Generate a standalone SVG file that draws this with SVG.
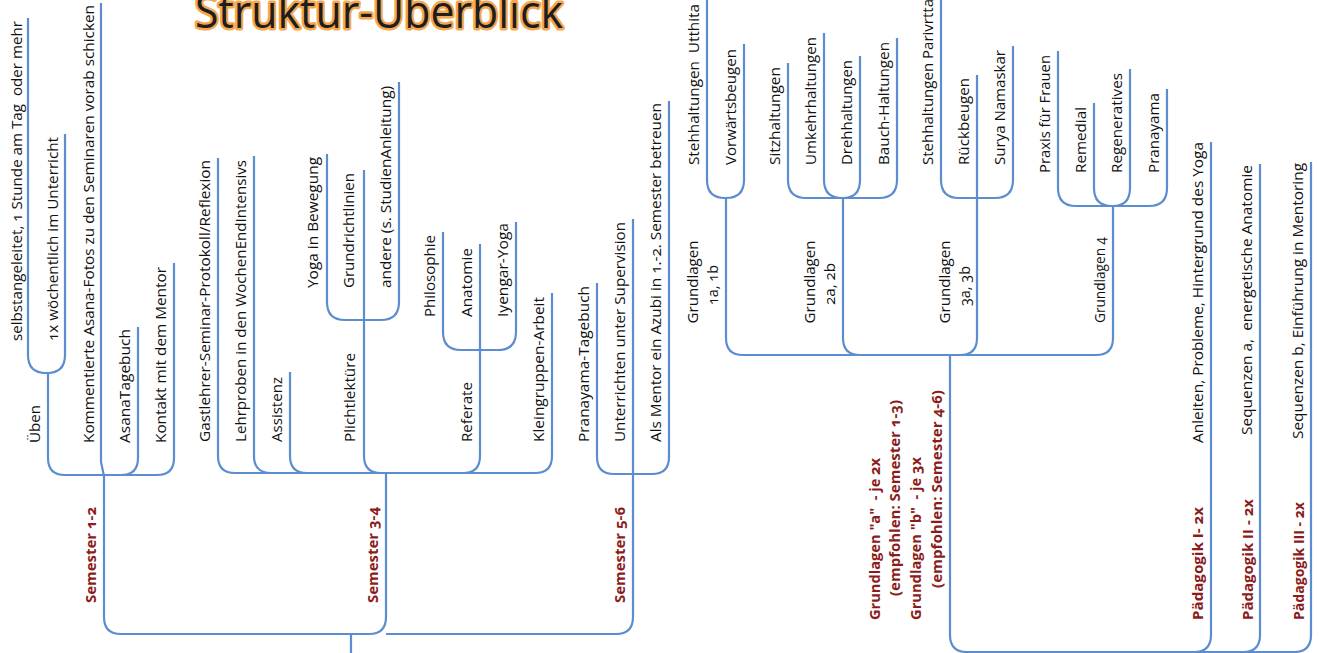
<svg xmlns="http://www.w3.org/2000/svg" width="1319" height="653" viewBox="0 0 1319 653">
<style>
.c{fill:none;stroke:#5b8dd0;stroke-width:2.2}
text{font-family:"Open Sans","Noto Sans",sans-serif;font-variant-numeric:oldstyle-nums}
.t{font-size:15px;fill:#111}
.b{font-size:14px;font-weight:700;fill:#8b1c1c}
.title{font-size:46px;fill:#1e1e1e;stroke:#f6a74d;stroke-width:5;paint-order:stroke;stroke-linejoin:round}
</style>
<rect width="1319" height="653" fill="#fff"/>
<g id="title"><text class="title" x="195" y="28" textLength="368" lengthAdjust="spacingAndGlyphs">Struktur-Überblick</text></g>
<g id="connectors" class="c">
<path d="M351,634 V653"/>
<path d="M101,3 V462 L104,476 V617 Q104,634 121,634 H351"/>
<path d="M386,473 V617 Q386,634 369,634 H351"/>
<path d="M633,219 V617 Q633,634 616,634 H386"/>
<path d="M48,373 V458 Q48,475 65,475 H104"/>
<path d="M28,18 V355 Q28,373 46,373 H48"/>
<path d="M65,134 V355 Q65,373 47,373 H48"/>
<path d="M138,327 V458 Q138,475 121,475 H104"/>
<path d="M174,263 V458 Q174,475 157,475 H104"/>
<path d="M218,158 V456 Q218,473 235,473 H386"/>
<path d="M254,156 V456 Q254,473 271,473 H386"/>
<path d="M290,372 V456 Q290,473 307,473 H386"/>
<path d="M364,170 V456 Q364,473 381,473 H386"/>
<path d="M327,154 V302 Q327,320 345,320 H364"/>
<path d="M399,82 V302 Q399,320 381,320 H364"/>
<path d="M480,244 V456 Q480,473 463,473 H386"/>
<path d="M443,232 V332 Q443,350 461,350 H480"/>
<path d="M516,222 V332 Q516,350 498,350 H480"/>
<path d="M552,293 V456 Q552,473 535,473 H386"/>
<path d="M597,283 V457 Q597,474 614,474 H633"/>
<path d="M669,101 V457 Q669,474 652,474 H633"/>
<path d="M950,355 V635 Q950,652 967,652 H1294"/>
<path d="M1211,142 V635 Q1211,652 1194,652"/>
<path d="M1260,164 V635 Q1260,652 1243,652"/>
<path d="M1311,162 V635 Q1311,652 1294,652"/>
<path d="M726,198 V338 Q726,355 743,355 H950"/>
<path d="M707,0 V180 Q707,198 725,198 H726"/>
<path d="M744,44 V180 Q744,198 726,198"/>
<path d="M843,198 V338 Q843,355 860,355 H950"/>
<path d="M788,63 V180 Q788,198 806,198 H843"/>
<path d="M897,38 V180 Q897,198 879,198 H843"/>
<path d="M824,33 V180 Q824,198 842,198 H843"/>
<path d="M860,56 V180 Q860,198 843,198"/>
<path d="M977,75 V338 Q977,355 960,355 H950"/>
<path d="M941,0 V180 Q941,198 959,198 H977"/>
<path d="M1013,46 V180 Q1013,198 995,198 H977"/>
<path d="M1113,206 V338 Q1113,355 1096,355 H950"/>
<path d="M1058,51 V188 Q1058,206 1076,206 H1113"/>
<path d="M1167,89 V188 Q1167,206 1149,206 H1113"/>
<path d="M1094,103 V188 Q1094,206 1112,206 H1113"/>
<path d="M1130,69 V188 Q1130,206 1113,206"/>
</g>
<g id="n-selbst"><text class="t" xml:space="preserve" transform="translate(22,341) rotate(-90)" textLength="320" lengthAdjust="spacingAndGlyphs">selbstangeleitet, 1 Stunde am Tag  oder mehr</text></g>
<g id="n-1x"><text class="t" transform="translate(58,341) rotate(-90)" textLength="204" lengthAdjust="spacingAndGlyphs">1x wöchentlich im Unterricht</text></g>
<g id="n-ueben"><text class="t" transform="translate(40,443) rotate(-90)" textLength="38" lengthAdjust="spacingAndGlyphs">Üben</text></g>
<g id="n-komm"><text class="t" transform="translate(94,443) rotate(-90)" textLength="438" lengthAdjust="spacingAndGlyphs">Kommentierte Asana-Fotos zu den Seminaren vorab schicken</text></g>
<g id="n-asana"><text class="t" transform="translate(130,443) rotate(-90)" textLength="114" lengthAdjust="spacingAndGlyphs">AsanaTagebuch</text></g>
<g id="n-kontakt"><text class="t" transform="translate(166,443) rotate(-90)" textLength="176" lengthAdjust="spacingAndGlyphs">Kontakt mit dem Mentor</text></g>
<g id="n-sem12"><text class="b" transform="translate(96,603) rotate(-90)" textLength="96" lengthAdjust="spacingAndGlyphs">Semester 1-2</text></g>
<g id="n-gast"><text class="t" transform="translate(210,442) rotate(-90)" textLength="282" lengthAdjust="spacingAndGlyphs">Gastlehrer-Seminar-Protokoll/Reflexion</text></g>
<g id="n-lehr"><text class="t" transform="translate(246,442) rotate(-90)" textLength="282" lengthAdjust="spacingAndGlyphs">Lehrproben in den WochenEndIntensivs</text></g>
<g id="n-assist"><text class="t" transform="translate(282,442) rotate(-90)" textLength="65" lengthAdjust="spacingAndGlyphs">Assistenz</text></g>
<g id="n-plicht"><text class="t" transform="translate(355,442) rotate(-90)" textLength="89" lengthAdjust="spacingAndGlyphs">Plichtlektüre</text></g>
<g id="n-yoga"><text class="t" transform="translate(318,288) rotate(-90)" textLength="131" lengthAdjust="spacingAndGlyphs">Yoga in Bewegung</text></g>
<g id="n-grund"><text class="t" transform="translate(354,288) rotate(-90)" textLength="115" lengthAdjust="spacingAndGlyphs">Grundrichtlinien</text></g>
<g id="n-andere"><text class="t" transform="translate(391,288) rotate(-90)" textLength="202" lengthAdjust="spacingAndGlyphs">andere (s. StudienAnleitung)</text></g>
<g id="n-philo"><text class="t" transform="translate(435,317) rotate(-90)" textLength="82" lengthAdjust="spacingAndGlyphs">Philosophie</text></g>
<g id="n-anat"><text class="t" transform="translate(472,317) rotate(-90)" textLength="69" lengthAdjust="spacingAndGlyphs">Anatomie</text></g>
<g id="n-iyengar"><text class="t" transform="translate(508,317) rotate(-90)" textLength="94" lengthAdjust="spacingAndGlyphs">Iyengar-Yoga</text></g>
<g id="n-referate"><text class="t" transform="translate(472,442) rotate(-90)" textLength="60" lengthAdjust="spacingAndGlyphs">Referate</text></g>
<g id="n-klein"><text class="t" transform="translate(544,442) rotate(-90)" textLength="145" lengthAdjust="spacingAndGlyphs">Kleingruppen-Arbeit</text></g>
<g id="n-sem34"><text class="b" transform="translate(378,603) rotate(-90)" textLength="96" lengthAdjust="spacingAndGlyphs">Semester 3-4</text></g>
<g id="n-pranatb"><text class="t" transform="translate(589,442) rotate(-90)" textLength="156" lengthAdjust="spacingAndGlyphs">Pranayama-Tagebuch</text></g>
<g id="n-unter"><text class="t" transform="translate(625,442) rotate(-90)" textLength="220" lengthAdjust="spacingAndGlyphs">Unterrichten unter Supervision</text></g>
<g id="n-mentor"><text class="t" transform="translate(661,442) rotate(-90)" textLength="339" lengthAdjust="spacingAndGlyphs">Als Mentor ein Azubi in 1.-2. Semester betreuen</text></g>
<g id="n-sem56"><text class="b" transform="translate(625,603) rotate(-90)" textLength="96" lengthAdjust="spacingAndGlyphs">Semester 5-6</text></g>
<g id="n-g1"><text class="t" text-anchor="middle" transform="translate(698,282) rotate(-90)" textLength="83" lengthAdjust="spacingAndGlyphs">Grundlagen</text><text class="t" text-anchor="middle" transform="translate(718,285) rotate(-90)" textLength="40" lengthAdjust="spacingAndGlyphs">1a, 1b</text></g>
<g id="n-utthita"><text class="t" xml:space="preserve" transform="translate(699,165) rotate(-90)" textLength="161" lengthAdjust="spacingAndGlyphs">Stehhaltungen  Utthita</text></g>
<g id="n-vorw"><text class="t" transform="translate(736,165) rotate(-90)" textLength="116" lengthAdjust="spacingAndGlyphs">Vorwärtsbeugen</text></g>
<g id="n-g2"><text class="t" text-anchor="middle" transform="translate(815,282) rotate(-90)" textLength="83" lengthAdjust="spacingAndGlyphs">Grundlagen</text><text class="t" text-anchor="middle" transform="translate(835,284) rotate(-90)" textLength="42" lengthAdjust="spacingAndGlyphs">2a, 2b</text></g>
<g id="n-sitz"><text class="t" transform="translate(780,165) rotate(-90)" textLength="98" lengthAdjust="spacingAndGlyphs">Sitzhaltungen</text></g>
<g id="n-umkehr"><text class="t" transform="translate(816,165) rotate(-90)" textLength="128" lengthAdjust="spacingAndGlyphs">Umkehrhaltungen</text></g>
<g id="n-dreh"><text class="t" transform="translate(852,165) rotate(-90)" textLength="105" lengthAdjust="spacingAndGlyphs">Drehhaltungen</text></g>
<g id="n-bauch"><text class="t" transform="translate(889,165) rotate(-90)" textLength="123" lengthAdjust="spacingAndGlyphs">Bauch-Haltungen</text></g>
<g id="n-g3"><text class="t" text-anchor="middle" transform="translate(950,282) rotate(-90)" textLength="83" lengthAdjust="spacingAndGlyphs">Grundlagen</text><text class="t" text-anchor="middle" transform="translate(970,286) rotate(-90)" textLength="40" lengthAdjust="spacingAndGlyphs">3a, 3b</text></g>
<g id="n-pariv"><text class="t" transform="translate(933,165) rotate(-90)" textLength="166" lengthAdjust="spacingAndGlyphs">Stehhaltungen Parivrtta</text></g>
<g id="n-rueck"><text class="t" transform="translate(969,165) rotate(-90)" textLength="87" lengthAdjust="spacingAndGlyphs">Rückbeugen</text></g>
<g id="n-surya"><text class="t" transform="translate(1005,165) rotate(-90)" textLength="115" lengthAdjust="spacingAndGlyphs">Surya Namaskar</text></g>
<g id="n-g4"><text class="t" transform="translate(1105,323) rotate(-90)" textLength="86" lengthAdjust="spacingAndGlyphs">Grundlagen 4</text></g>
<g id="n-praxis"><text class="t" transform="translate(1050,173) rotate(-90)" textLength="118" lengthAdjust="spacingAndGlyphs">Praxis für Frauen</text></g>
<g id="n-remedial"><text class="t" transform="translate(1086,173) rotate(-90)" textLength="66" lengthAdjust="spacingAndGlyphs">Remedial</text></g>
<g id="n-regen"><text class="t" transform="translate(1122,173) rotate(-90)" textLength="100" lengthAdjust="spacingAndGlyphs">Regeneratives</text></g>
<g id="n-pranayama"><text class="t" transform="translate(1159,173) rotate(-90)" textLength="80" lengthAdjust="spacingAndGlyphs">Pranayama</text></g>
<g id="n-grundlagen-ab">
<text class="b" xml:space="preserve" transform="translate(880,620) rotate(-90)" textLength="162" lengthAdjust="spacingAndGlyphs">Grundlagen "a"  - je 2x</text>
<text class="b" transform="translate(900,596) rotate(-90)" textLength="196" lengthAdjust="spacingAndGlyphs">(empfohlen: Semester 1-3)</text>
<text class="b" xml:space="preserve" transform="translate(921,620) rotate(-90)" textLength="163" lengthAdjust="spacingAndGlyphs">Grundlagen "b"  - je 3x</text>
<text class="b" transform="translate(942,588) rotate(-90)" textLength="198" lengthAdjust="spacingAndGlyphs">(empfohlen: Semester 4-6)</text>
</g>
<g id="n-paed1"><text class="b" transform="translate(1203,620) rotate(-90)" textLength="113" lengthAdjust="spacingAndGlyphs">Pädagogik I- 2x</text></g>
<g id="n-anleiten"><text class="t" transform="translate(1203,443) rotate(-90)" textLength="301" lengthAdjust="spacingAndGlyphs">Anleiten, Probleme, Hintergrund des Yoga</text></g>
<g id="n-paed2"><text class="b" transform="translate(1253,620) rotate(-90)" textLength="121" lengthAdjust="spacingAndGlyphs">Pädagogik II - 2x</text></g>
<g id="n-seqa"><text class="t" xml:space="preserve" transform="translate(1252,435) rotate(-90)" textLength="270" lengthAdjust="spacingAndGlyphs">Sequenzen a,  energetische Anatomie</text></g>
<g id="n-paed3"><text class="b" transform="translate(1304,620) rotate(-90)" textLength="118" lengthAdjust="spacingAndGlyphs">Pädagogik III - 2x</text></g>
<g id="n-seqb"><text class="t" transform="translate(1303,439) rotate(-90)" textLength="276" lengthAdjust="spacingAndGlyphs">Sequenzen b, Einführung in Mentoring</text></g>
</svg>
